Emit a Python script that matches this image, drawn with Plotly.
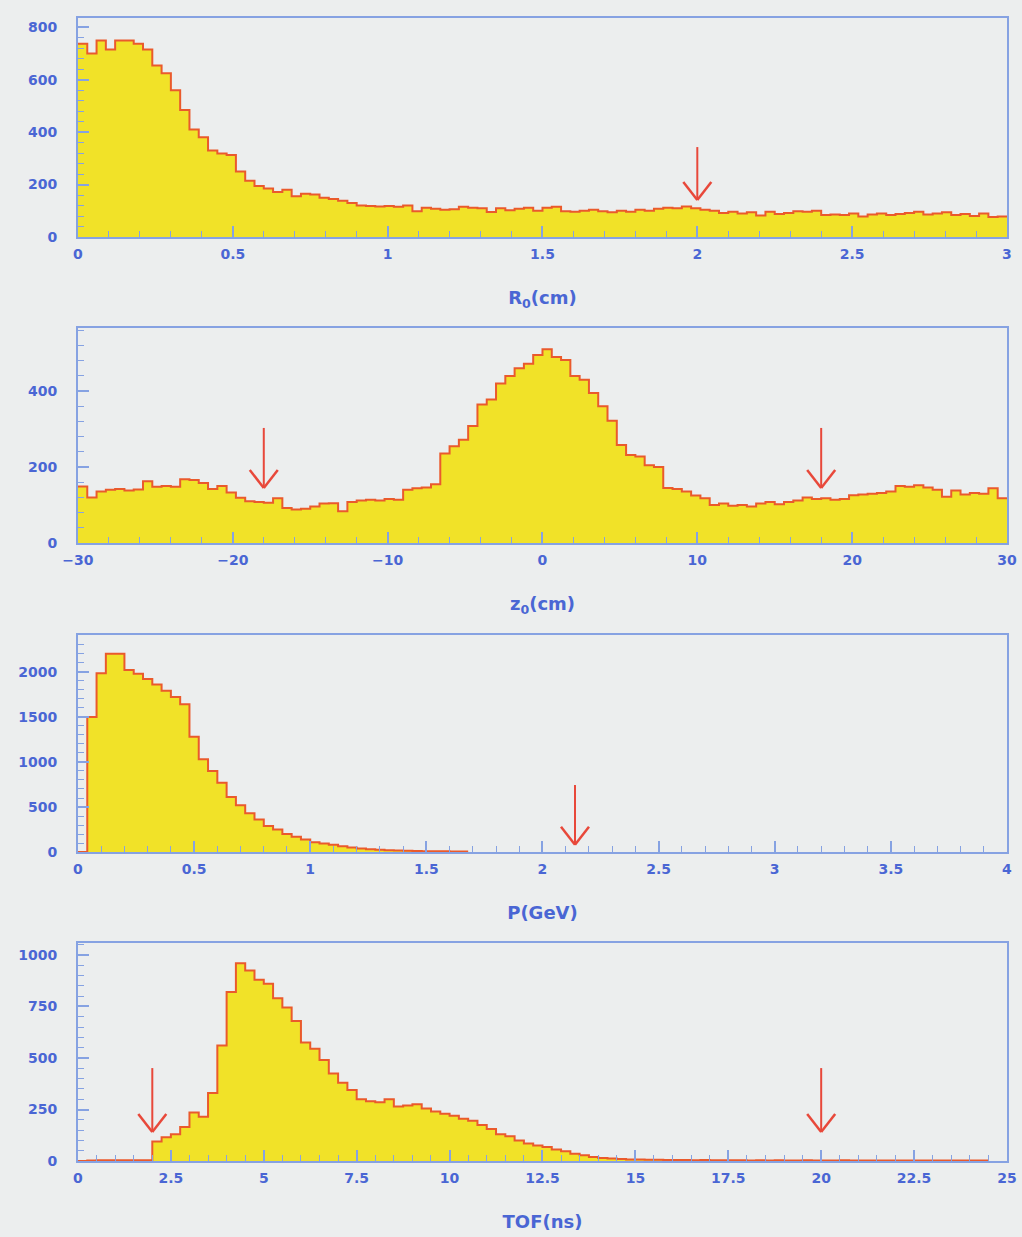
import numpy as np
import plotly.graph_objects as go

# ---------------- data ----------------
r_range = [0, 3]
r_counts = [737, 700, 749, 715, 749, 749, 737, 715, 654, 625,
            560, 484, 410, 380, 330, 318, 313, 250, 215, 195,
            185, 172, 180, 155, 165, 162, 150, 145, 138, 130,
            120, 118, 116, 118, 115, 120, 98, 112, 108, 104,
            106, 115, 112, 110, 95, 110, 102, 108, 112, 100,
            112, 115, 98, 96, 100, 104, 98, 94, 100, 96,
            104, 100, 108, 112, 110, 116, 110, 104, 100, 92,
            96, 90, 94, 82, 96, 88, 92, 98, 96, 100,
            84, 86, 84, 90, 78, 86, 90, 84, 88, 92,
            96, 86, 90, 94, 84, 88, 80, 90, 76, 78]
r_cuts = [2.0]

z_range = [-30, 30]
z_counts = [149, 120, 136, 140, 142, 138, 141, 163, 148, 150,
            148, 168, 166, 158, 142, 150, 133, 119, 110, 108,
            106, 118, 92, 88, 90, 96, 104, 105, 84, 108,
            112, 114, 112, 116, 114, 140, 144, 146, 155, 236,
            255, 272, 308, 365, 378, 420, 440, 460, 472, 495,
            510, 490, 482, 440, 430, 395, 360, 322, 258, 232,
            228, 205, 200, 145, 142, 136, 125, 118, 100, 104,
            98, 100, 96, 104, 108, 102, 108, 112, 120, 116,
            118, 114, 116, 126, 128, 130, 132, 136, 150, 148,
            152, 146, 140, 122, 138, 128, 132, 130, 144, 118]
z_cuts = [-18.0, 18.0]

p_range = [0, 4]
p_nbins = 100
p_counts = [0, 1500, 1985, 2200, 2200, 2020, 1980, 1920, 1860, 1790,
            1720, 1640, 1280, 1030, 900, 770, 610, 520, 430, 360,
            290, 250, 200, 170, 140, 110, 95, 80, 65, 50,
            40, 32, 25, 20, 16, 14, 12, 10, 9, 8,
            7, 6]
p_cuts = [2.14]

t_range = [0, 25]
t_nbins = 100
t_counts = [0, 3, 4, 4, 4, 4, 4, 4, 95, 115,
            130, 165, 235, 215, 330, 560, 820, 960, 925, 880,
            860, 790, 745, 680, 575, 545, 490, 425, 380, 345,
            300, 290, 285, 300, 265, 270, 275, 255, 240, 230,
            220, 205, 195, 175, 155, 130, 120, 100, 85, 75,
            68, 56, 48, 36, 28, 20, 15, 12, 10, 8,
            7, 6, 6, 5, 5, 5, 4, 5, 4, 4,
            4, 4, 3, 4, 3, 4, 3, 3, 4, 3,
            3, 3, 4, 3, 3, 3, 3, 3, 3, 3,
            3, 3, 3, 3, 3, 3, 3, 3]
t_cuts = [2.0, 20.0]

# arrow (tail, tip) heights per panel, in counts
r_arrow = [343, 141]
z_arrow = [303, 145]
p_arrow = [744, 80]
t_arrow = [451, 141]

panels = [
    dict(rng=r_range, nb=100, counts=r_counts, cuts=r_cuts, arrow=r_arrow,
         ymax=835, xd=0.5, xm=0.1, yd=200, ym=40, title="R<sub>0</sub>(cm)",
         dom=[0.8084, 0.9854]),
    dict(rng=z_range, nb=100, counts=z_counts, cuts=z_cuts, arrow=z_arrow,
         ymax=566, xd=10, xm=2, yd=200, ym=40, title="z<sub>0</sub>(cm)",
         dom=[0.5610, 0.7348]),
    dict(rng=p_range, nb=p_nbins, counts=p_counts, cuts=p_cuts, arrow=p_arrow,
         ymax=2410, xd=0.5, xm=0.1, yd=500, ym=100, title="P(GeV)",
         dom=[0.3112, 0.4867]),
    dict(rng=t_range, nb=t_nbins, counts=t_counts, cuts=t_cuts, arrow=t_arrow,
         ymax=1058, xd=2.5, xm=0.5, yd=250, ym=50, title="TOF(ns)",
         dom=[0.0614, 0.2377]),
]

BG = "#eceeee"
AX = "#86a2e2"
TXT = "#4a66d4"
FILL = "#f1e228"
LINE = "#ea5a2c"
ARROW = "#e8483a"
FONT = "DejaVu Sans"

fig = go.Figure()
shapes = []
for i, pnl in enumerate(panels):
    k = "" if i == 0 else str(i + 1)
    xa, ya = "x" + k, "y" + k
    lo, hi = pnl["rng"]
    width = (hi - lo) / pnl["nb"]
    counts = list(pnl["counts"])
    edges = lo + width * np.arange(len(counts) + 1)
    yvals = counts + [counts[-1]]
    fig.add_trace(go.Scatter(
        x=edges, y=yvals, mode="lines", line=dict(shape="hv", color=LINE, width=2),
        fill="tozeroy", fillcolor=FILL, xaxis=xa, yaxis=ya, showlegend=False,
        hoverinfo="skip"))

    axis_common = dict(showline=True, linecolor=AX, linewidth=2, mirror=True,
                       ticks="inside", tickcolor=AX, tickwidth=1.5,
                       showgrid=False, zeroline=False, automargin=False,
                       tickfont=dict(family=FONT, size=14, color=TXT, weight="bold"))
    fig.layout["xaxis" + k] = dict(
        axis_common, domain=[0.0763, 0.9853], range=[lo, hi], anchor=ya,
        tick0=lo, dtick=pnl["xd"], ticklen=11,
        minor=dict(ticks="inside", dtick=pnl["xm"], ticklen=6, tickcolor=AX, tickwidth=1.2, showgrid=False),
        ticklabelstandoff=3,
        title=dict(text=pnl["title"], standoff=31,
                   font=dict(family=FONT, size=18, color=TXT, weight="bold")))
    fig.layout["yaxis" + k] = dict(
        axis_common, domain=pnl["dom"], range=[0, pnl["ymax"]], anchor=xa,
        tick0=0, dtick=pnl["yd"], ticklen=11,
        minor=dict(ticks="inside", dtick=pnl["ym"], ticklen=6, tickcolor=AX, tickwidth=1.2, showgrid=False),
        ticklabelstandoff=16)

    tail, tip = pnl["arrow"]
    for c in pnl["cuts"]:
        shapes.append(dict(type="line", xref=xa, yref=ya, x0=c, x1=c, y0=tail, y1=tip,
                           line=dict(color=ARROW, width=2)))
        for side in (-1, 1):
            shapes.append(dict(type="line", xref=xa, yref=ya,
                               xsizemode="pixel", xanchor=c, x0=side * 14, x1=0,
                               ysizemode="pixel", yanchor=tip, y0=18, y1=0,
                               line=dict(color=ARROW, width=2.5)))

fig.update_layout(
    width=1022, height=1237, margin=dict(l=0, r=0, t=0, b=0),
    paper_bgcolor=BG, plot_bgcolor=BG, shapes=shapes, showlegend=False)

fig.write_html("out.html")
